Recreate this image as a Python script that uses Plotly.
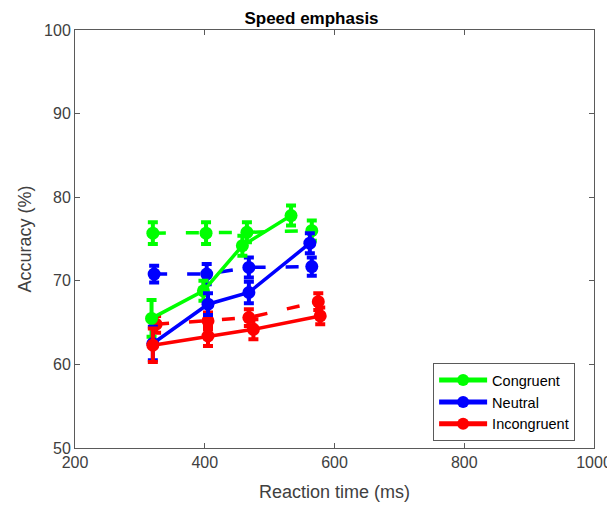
import plotly.graph_objects as go

# Solid lines (legend series)
cong_rt = [318, 398, 458, 533]
cong_acc = [65.5, 68.8, 74.2, 77.8]
cong_err = [2.2, 1.2, 1.2, 1.2]

neut_rt = [320, 405, 468, 562]
neut_acc = [62.5, 67.2, 68.6, 74.5]
neut_err = [2.0, 1.3, 1.3, 1.2]

inc_rt = [320, 405, 475, 578]
inc_acc = [62.3, 63.4, 64.2, 65.8]
inc_err = [2.0, 1.2, 1.2, 1.0]

# Dashed lines
cong_rt_d = [320, 402, 465, 565]
cong_acc_d = [75.7, 75.7, 75.8, 76.0]
cong_err_d = [1.3, 1.3, 1.2, 1.2]

neut_rt_d = [322, 403, 468, 565]
neut_acc_d = [70.8, 70.8, 71.6, 71.7]
neut_err_d = [1.0, 1.2, 1.2, 1.1]

inc_rt_d = [325, 405, 468, 575]
inc_acc_d = [64.8, 65.2, 65.6, 67.5]
inc_err_d = [1.0, 1.0, 1.0, 1.0]

names = ["Congruent", "Neutral", "Incongruent"]
colors = ["#00FF00", "#0000FF", "#FF0000"]

solid = [(cong_rt, cong_acc, cong_err), (neut_rt, neut_acc, neut_err), (inc_rt, inc_acc, inc_err)]
dashed = [(cong_rt_d, cong_acc_d, cong_err_d), (neut_rt_d, neut_acc_d, neut_err_d), (inc_rt_d, inc_acc_d, inc_err_d)]

FONT = "Liberation Sans, Arial"

fig = go.Figure()
for (x, y, e), c in zip(dashed, colors):
    fig.add_trace(go.Scatter(
        x=x, y=y, mode="lines+markers", showlegend=False,
        line=dict(color=c, width=3.5, dash="13px,20px"),
        marker=dict(color=c, size=13, symbol="circle"),
        error_y=dict(type="data", array=e, color=c, thickness=4, width=5),
    ))
for (x, y, e), c, n in zip(solid, colors, names):
    fig.add_trace(go.Scatter(
        x=x, y=y, mode="lines+markers", name=n,
        line=dict(color=c, width=3.5),
        marker=dict(color=c, size=13, symbol="circle"),
        error_y=dict(type="data", array=e, color=c, thickness=4, width=5),
    ))

axis_common = dict(
    showline=True, linecolor="#5a5a5a", linewidth=1, mirror="allticks",
    ticks="inside", ticklen=5, tickcolor="#5a5a5a", showgrid=False, zeroline=False,
    automargin=False,
    tickfont=dict(family=FONT, size=16, color="#404040"),
)

fig.update_layout(
    width=607, height=498,
    margin=dict(l=67, r=21, t=22, b=58),
    paper_bgcolor="white", plot_bgcolor="white",
    title=dict(text="<b>Speed emphasis</b>", x=0.5, xanchor="center", y=0.979, yanchor="middle",
               automargin=False,
               font=dict(family=FONT, size=17, color="black")),
    xaxis=dict(range=[200, 1000], tickvals=[200, 400, 600, 800, 1000],
               title=dict(text="Reaction time (ms)", font=dict(family=FONT, size=18, color="#404040")),
               **axis_common),
    yaxis=dict(range=[50, 100], tickvals=[50, 60, 70, 80, 90, 100],
               title=dict(text="Accuracy (%)", font=dict(family=FONT, size=18, color="#404040"), standoff=7),
               **axis_common),
    legend=dict(x=0.69, y=0.203, xanchor="left", yanchor="top",
                bgcolor="white", bordercolor="#5a5a5a", borderwidth=1,
                font=dict(family=FONT, size=14.5, color="black"),
                tracegroupgap=0, itemwidth=48, itemsizing="constant"),
    showlegend=True,
)

fig.write_html("out.html")
